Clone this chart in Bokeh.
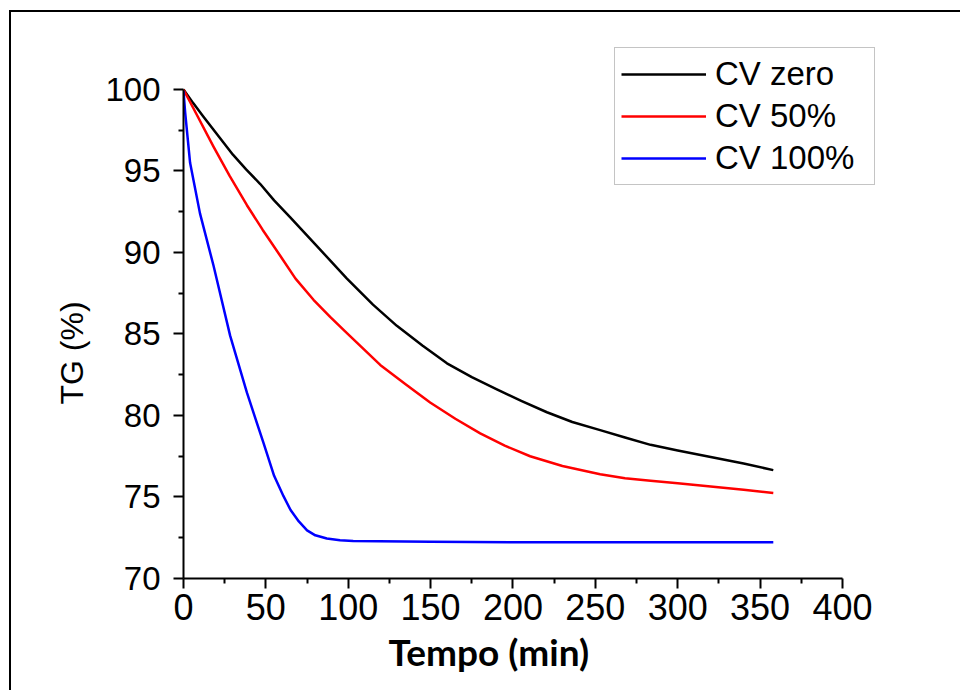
from bokeh.plotting import figure
from bokeh.models import Range1d, Legend, LegendItem, FixedTicker, Title
from bokeh.embed import file_html
from bokeh.resources import INLINE

# Data
t_zero = [0, 6, 12, 20, 30, 38, 46.6, 55, 64.8, 80, 99.2, 115, 129.5, 145, 159.9,
          175, 190.2, 205, 220.6, 236, 252.9, 268, 283.5, 300, 320, 340, 358]
tg_zero = [100, 99.15, 98.35, 97.3, 96.0, 95.1, 94.2, 93.2, 92.15, 90.5, 88.4, 86.8,
           85.5, 84.3, 83.2, 82.35, 81.6, 80.9, 80.2, 79.6, 79.1, 78.65, 78.2, 77.85,
           77.45, 77.05, 76.65]

t_50 = [0, 6, 18.2, 28, 38.5, 48, 58.7, 68, 78.9, 89, 99.2, 119.4, 135, 149.7, 165,
        180.1, 195, 210.4, 230, 252.9, 268, 283.5, 300, 320, 340, 358]
tg_50 = [100, 98.85, 96.5, 94.7, 92.9, 91.4, 89.8, 88.4, 87.1, 86.05, 85.05, 83.1,
         81.9, 80.8, 79.8, 78.9, 78.15, 77.5, 76.9, 76.4, 76.15, 76.0, 75.85, 75.65,
         75.45, 75.25]

t_100 = [0, 1, 4, 10, 18.2, 28.3, 38.5, 48.6, 55, 60.7, 65, 70, 75, 80, 87, 95, 103,
         150, 200, 250, 300, 358]
tg_100 = [99.9, 98.6, 95.5, 92.4, 89.2, 84.9, 81.4, 78.3, 76.3, 75.05, 74.2, 73.5,
          72.95, 72.65, 72.45, 72.35, 72.3, 72.25, 72.23, 72.22, 72.22, 72.22]

x_ticks = [0, 50, 100, 150, 200, 250, 300, 350, 400]
x_minor = [25, 75, 125, 175, 225, 275, 325, 375]
y_ticks = [70, 75, 80, 85, 90, 95, 100]
y_minor = [72.5, 77.5, 82.5, 87.5, 92.5, 97.5]

series_names = ["CV zero", "CV 50%", "CV 100%"]
series_colors = ["black", "red", "blue"]

p = figure(frame_width=697, frame_height=538,
           x_range=Range1d(0, 423.07), y_range=Range1d(70, 103.006),
           output_backend="svg", toolbar_location=None,
           min_border_left=172, min_border_right=80,
           min_border_top=28, min_border_bottom=112)
p.styles = {"margin-left": "9px", "margin-top": "10px",
            "border-top": "2px solid black", "border-left": "2px solid black"}

p.outline_line_color = None
p.xgrid.visible = False
p.ygrid.visible = False
p.background_fill_color = "white"
p.border_fill_color = "white"

r0 = p.line(t_zero, tg_zero, line_color=series_colors[0], line_width=2.5, line_join="round")
r1 = p.line(t_50, tg_50, line_color=series_colors[1], line_width=2.5, line_join="round")
r2 = p.line(t_100, tg_100, line_color=series_colors[2], line_width=2.5, line_join="round")

p.xaxis.ticker = FixedTicker(ticks=x_ticks, minor_ticks=x_minor)
p.yaxis.ticker = FixedTicker(ticks=y_ticks, minor_ticks=y_minor)
p.xaxis.bounds = (0, 400)
p.yaxis.bounds = (70, 100)

for ax in (p.xaxis[0], p.yaxis[0]):
    ax.axis_line_color = "black"
    ax.axis_line_width = 2
    ax.major_tick_line_color = "black"
    ax.major_tick_line_width = 2
    ax.major_tick_out = 10
    ax.major_tick_in = 0
    ax.minor_tick_line_color = "black"
    ax.minor_tick_line_width = 2
    ax.minor_tick_out = 5
    ax.minor_tick_in = 0
    ax.major_label_text_font = "Liberation Sans"
    ax.major_label_text_color = "black"

p.xaxis.major_label_text_font_size = "36px"
p.yaxis.major_label_text_font_size = "33px"
p.xaxis.major_label_standoff = 5
p.yaxis.major_label_standoff = 13

xlab = Title(text="Tempo (min)", align="left", offset=205, standoff=8,
             text_font="Lato", text_font_style="bold", text_font_size="37px",
             text_color="black")
p.add_layout(xlab, "below")

ylab = Title(text="TG (%)", align="left", offset=174, standoff=26,
             text_font="Liberation Sans", text_font_style="normal",
             text_font_size="32px", text_color="black")
p.add_layout(ylab, "left")

legend = Legend(items=[LegendItem(label=series_names[0], renderers=[r0]),
                       LegendItem(label=series_names[1], renderers=[r1]),
                       LegendItem(label=series_names[2], renderers=[r2])],
                location=(431, 393))
legend.margin = 0
legend.padding = 6
legend.spacing = 2
legend.glyph_width = 85
legend.glyph_height = 40
legend.label_height = 40
legend.label_width = 153
legend.label_standoff = 9
legend.label_text_font = "Liberation Sans"
legend.label_text_font_size = "33px"
legend.label_text_color = "black"
legend.border_line_color = "#8a8a8a"
legend.border_line_width = 1.5
legend.background_fill_color = "white"
legend.background_fill_alpha = 1
p.add_layout(legend, "center")

open("out.html", "w").write(file_html(p, INLINE))
